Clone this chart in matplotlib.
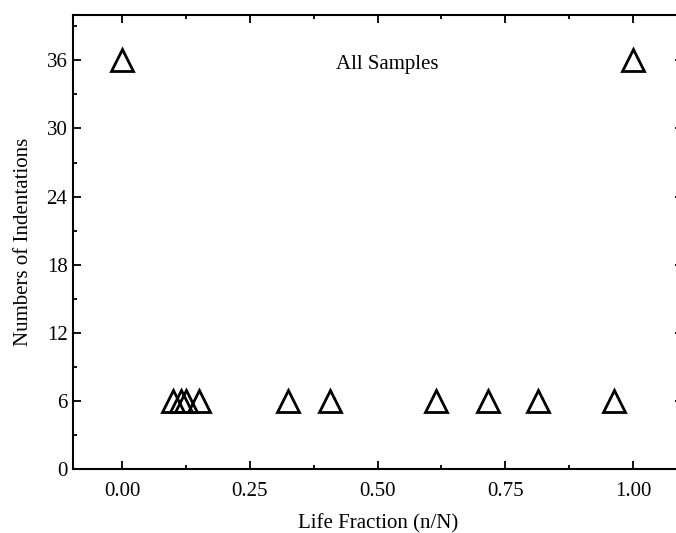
import matplotlib
matplotlib.use("Agg")
import matplotlib.pyplot as plt
from matplotlib.ticker import MultipleLocator

life_fraction = [0.0, 1.0, 0.10, 0.115, 0.125, 0.15, 0.325, 0.407, 0.614, 0.716, 0.814, 0.963]
indentations = [36, 36, 6, 6, 6, 6, 6, 6, 6, 6, 6, 6]
x_ticks = [0.00, 0.25, 0.50, 0.75, 1.00]
y_ticks = [0, 6, 12, 18, 24, 30, 36]

plt.rcParams['font.family'] = ['Liberation Serif', 'DejaVu Serif']

fig = plt.figure(figsize=(6.76, 5.33), dpi=100)
ax = fig.add_axes([73/676, (533-469)/533, (683-73)/676, (469-15)/533])

ax.plot(life_fraction, indentations, linestyle='none', marker='^', markersize=16.5,
        markerfacecolor='none', markeredgecolor='black', markeredgewidth=2, clip_on=False)

ax.set_xlim(-0.0959, (683-122)/511)
ax.set_ylim(0, 40)
ax.set_xticks(x_ticks)
ax.set_xticklabels([f"{v:.2f}" for v in x_ticks])
ax.set_yticks(y_ticks)
ax.xaxis.set_minor_locator(MultipleLocator(0.125))
ax.yaxis.set_minor_locator(MultipleLocator(3))
ax.tick_params(which='both', direction='in', top=True, right=True, labelsize=15, width=1.3)
ax.tick_params(which='major', length=6)
ax.tick_params(which='minor', length=3)
ax.tick_params(axis='x', which='major', pad=9)
ax.tick_params(axis='y', which='major', pad=4)
for s in ax.spines.values():
    s.set_linewidth(1.5)

ax.set_xlabel("Life Fraction (n/N)", fontsize=15, labelpad=10)
ax.set_ylabel("Numbers of Indentations", fontsize=15, labelpad=10)
ax.text(0.519, 35.6, "All Samples", fontsize=15, ha='center', va='center')

fig.savefig("out.png", dpi=100)
